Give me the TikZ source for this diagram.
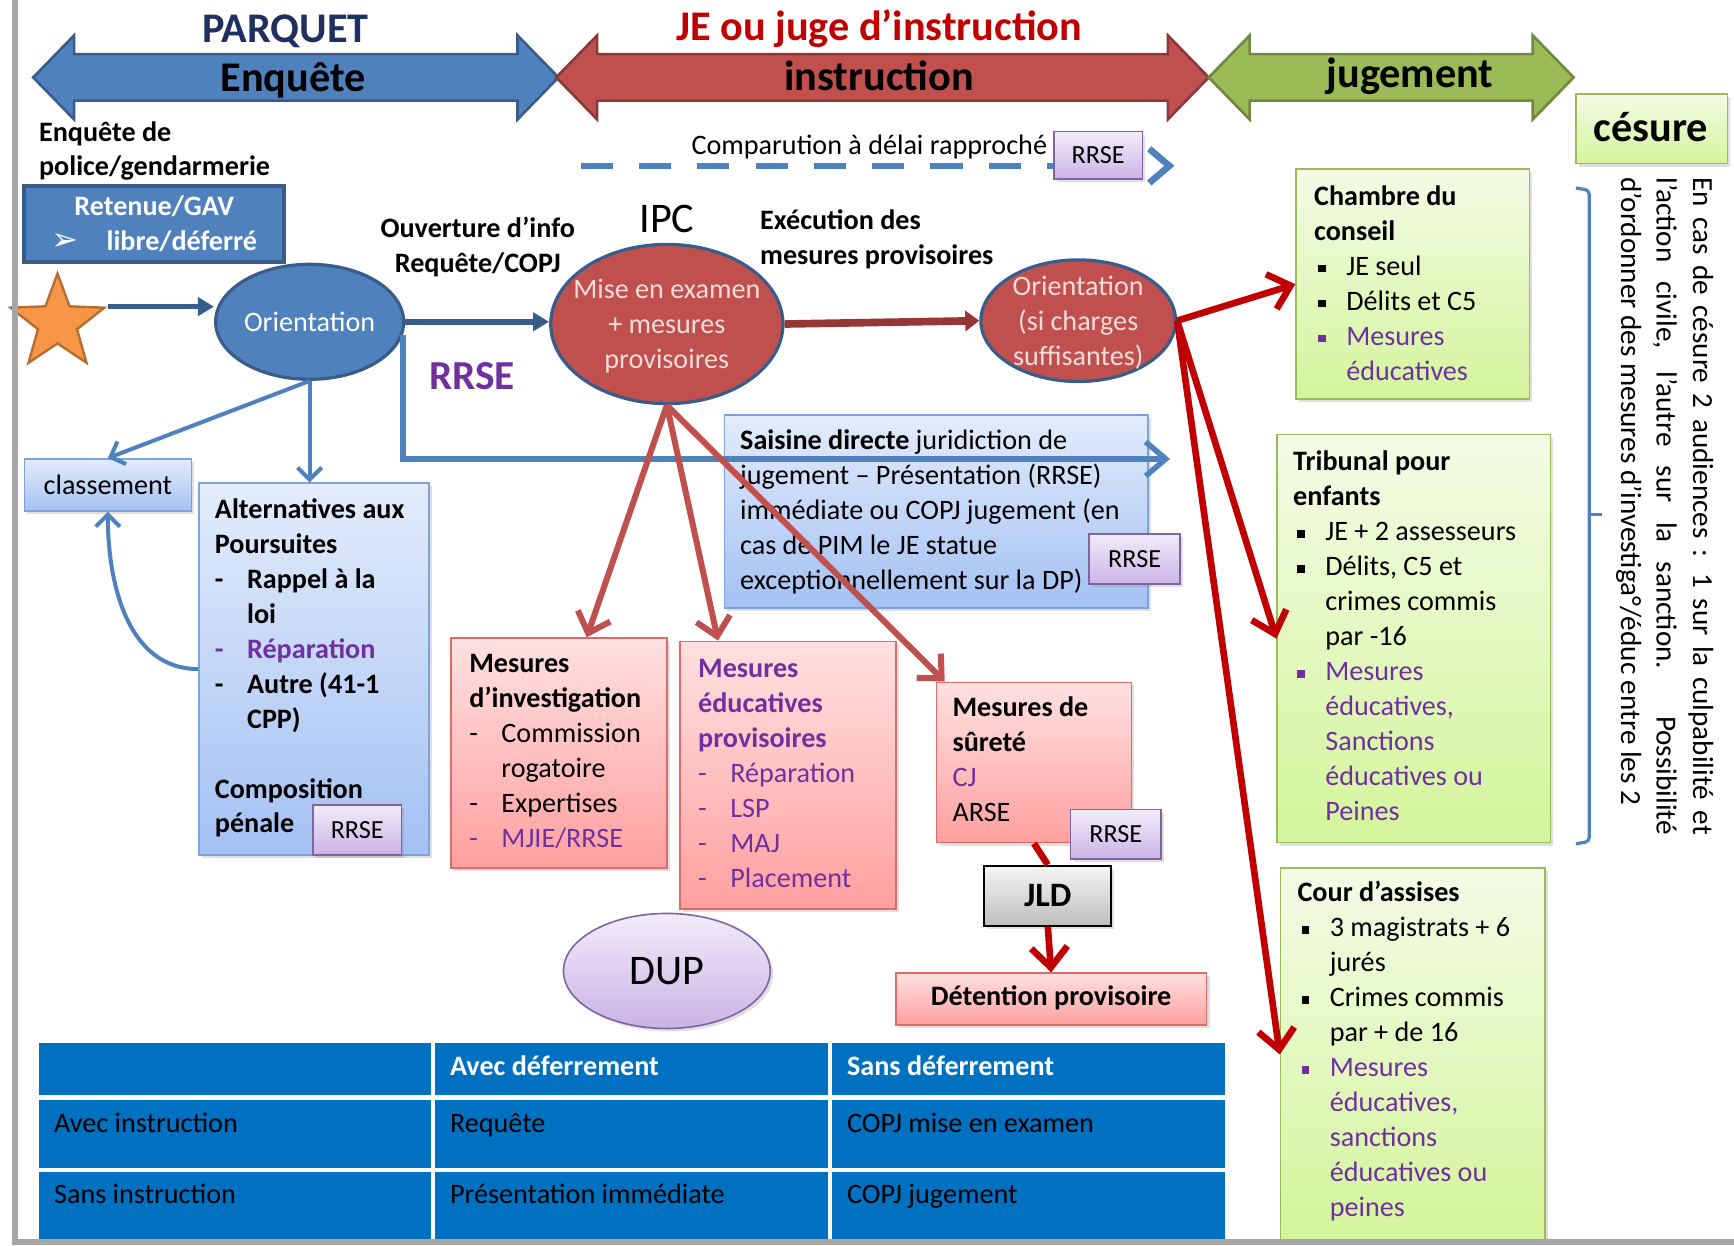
\documentclass[tikz,border=0pt]{standalone}
\usepackage{fontspec}
\setmainfont{Carlito}
\newfontfamily\dingfont{DejaVu Sans}
\usetikzlibrary{arrows.meta}
\usetikzlibrary{calc}
\usetikzlibrary{fit}
\usetikzlibrary{shapes.geometric}
\usetikzlibrary{shadows}

\definecolor{blueMain}{HTML}{4F81BD}
\definecolor{blueDark}{HTML}{385D8A}
\definecolor{redMain}{HTML}{C0504D}
\definecolor{redDark}{HTML}{8C3836}
\definecolor{redArrow}{HTML}{953735}
\definecolor{greenMain}{HTML}{9BBB59}
\definecolor{greenDark}{HTML}{71893F}
\definecolor{purpleTxt}{HTML}{7030A0}
\definecolor{deepRed}{HTML}{C00000}
\definecolor{navyTxt}{HTML}{1F2F5F}
\definecolor{tableBlue}{HTML}{0070C0}
\definecolor{lightBlueTop}{HTML}{E3ECFB}
\definecolor{lightBlueBot}{HTML}{A3C1F3}
\definecolor{lightBlueLine}{HTML}{7FA3D8}
\definecolor{pinkTop}{HTML}{FFE1E1}
\definecolor{pinkBot}{HTML}{FF9F9F}
\definecolor{pinkLine}{HTML}{E06A66}
\definecolor{greenTop}{HTML}{F4FBE6}
\definecolor{greenBot}{HTML}{D3F59B}
\definecolor{lavTop}{HTML}{F2ECF9}
\definecolor{lavBot}{HTML}{CAB3E6}
\definecolor{lavLine}{HTML}{8064A2}
\definecolor{grayTop}{HTML}{F5F5F5}
\definecolor{grayBot}{HTML}{BEBEBE}
\definecolor{frameGray}{HTML}{A6A6A6}
\definecolor{starFill}{HTML}{F79646}
\definecolor{starLine}{HTML}{B66D31}
\definecolor{ellTxt}{HTML}{F2DCDB}

\newcommand\bodyfont{\fontsize{14}{17.4}\selectfont}
\newcommand\titlefont{\fontsize{21}{25}\selectfont\bfseries}
\newcommand\rrsefont{\fontsize{13}{15}\selectfont}
\newcommand\listmark[1]{\makebox[16pt][l]{#1}}
\newcommand\sqbul{\listmark{\hspace{2pt}\rule[1.4pt]{3.8pt}{3.8pt}}}
\newcommand\indt{\hspace*{16pt}}

\tikzset{
  titletxt/.style={anchor=base, inner sep=0, font=\titlefont},
  txtblock/.style={anchor=north west, inner sep=0, align=left},
  boxbase/.style={inner sep=0, line width=0.8pt,
    drop shadow={opacity=0.25, shadow xshift=1.5pt, shadow yshift=-1.5pt}},
  bluebox/.style={boxbase, draw=lightBlueLine, top color=lightBlueTop, bottom color=lightBlueBot},
  pinkbox/.style={boxbase, draw=pinkLine, top color=pinkTop, bottom color=pinkBot},
  greenbox/.style={boxbase, draw=greenMain, top color=greenTop, bottom color=greenBot},
  tagbox/.style={boxbase, draw=lavLine, top color=lavTop, bottom color=lavBot},
  graybox/.style={boxbase, draw=black, line width=1pt, top color=grayTop, bottom color=grayBot},
  retenuebox/.style={inner sep=0, fill=blueMain, draw=blueDark, line width=2pt},
  cellbox/.style={inner sep=0, fill=tableBlue},
  blueell/.style={ellipse, inner sep=0, fill=blueMain, draw=blueDark, line width=1.6pt},
  redell/.style={ellipse, inner sep=0, fill=redMain, draw=blueDark, line width=1.6pt},
  dupell/.style={ellipse, inner sep=0, draw=lavLine, line width=0.8pt, top color=lavTop,
    bottom color=lavBot, drop shadow={opacity=0.25, shadow xshift=1.5pt, shadow yshift=-1.5pt}},
  vtxt/.style={rotate=-90, anchor=base west, inner sep=0, font=\fontsize{14.5}{17.9}\selectfont},
  darkarrow/.style={draw=blueDark, line width=2.75pt, -{Triangle[length=8pt, width=9pt]}},
  brownarrow/.style={draw=redArrow, line width=3.8pt, -{Triangle[length=7pt, width=10pt]}},
  bluethin/.style={draw=blueMain, line width=2pt, -{Straight Barb[length=6pt, width=12pt]}},
  bluethick/.style={draw=blueMain, line width=2.75pt, -{Straight Barb[length=10pt, width=17pt]}},
  bluedash/.style={bluethick, line width=3.3pt, dash pattern=on 16pt off 13pt},
  redsoft/.style={draw=redMain, line width=3pt, -{Straight Barb[length=9pt, width=17pt]}},
  redhard/.style={draw=deepRed, line width=3.3pt, -{Straight Barb[length=10pt, width=18pt]}},
  redline/.style={draw=deepRed, line width=3.3pt}
}

\begin{document}
\begin{tikzpicture}[x=0.55pt, y=-0.55pt, font=\bodyfont]
  \useasboundingbox (0,0) rectangle (1568,1126);

  % phases
  \foreach \xa/\xb/\fc/\dc in {30/505/blueMain/blueDark, 503/1093/redMain/redDark, 1093/1423/greenMain/greenDark}
    \draw[fill=\fc, draw=\dc, line width=1.3pt] (\xa,70) -- (\xa+37,32) -- (\xa+37,49)
      -- (\xb-37,49) -- (\xb-37,32) -- (\xb,70) -- (\xb-37,108) -- (\xb-37,91)
      -- (\xa+37,91) -- (\xa+37,108) -- cycle;

  \node[titletxt, navyTxt] (parquet) at (258,38) {PARQUET};
  \node[titletxt] (enquete) at (265,83) {Enquête};
  \node[titletxt, deepRed] (jetitle) at (795,37) {JE ou juge d’instruction};
  \node[titletxt] (instr) at (795,82) {instruction};
  \node[titletxt] (jug) at (1275,79) {jugement};

  % parquet
  \node[txtblock, font=\bodyfont\bfseries] (enqpol) at (35,105) {\strut Enquête de\\police/gendarmerie};
  \node[retenuebox, fit={(22,168) (257,237)}] (retenue) {};
  \node[text=white, font=\bodyfont\bfseries, align=center] (retenuetxt) at (retenue.center)
    {Retenue/GAV\\{\dingfont\fontsize{16}{17}\selectfont ➢}\hspace{14pt}libre/déferré};
  \node[star, star points=5, star point ratio=2.4, minimum size=49pt, inner sep=0,
    fill=starFill, draw=starLine, line width=1.2pt] (startpt) at (52,292) {};
  \node[blueell, minimum width=93.5pt, minimum height=57.2pt] (orient) at (280,291) {};
  \node[text=white] (orienttxt) at (orient.center) {Orientation};
  \node[font=\bodyfont\bfseries, align=center, anchor=north, inner sep=0] (ouverture) at (432,192)
    {\strut Ouverture d’info\\Requête/COPJ};
  \node[titletxt, font=\fontsize{20.5}{24}\selectfont\bfseries, purpleTxt] (rrsebig) at (427,352) {RRSE};

  \node[bluebox, fit={(22,415) (173,462)}] (classement) {};
  \node (classementtxt) at (classement.center) {classement};
  \node[bluebox, fit={(180,437) (388,773)}] (altern) {};
  \node[txtblock, font=\bodyfont\bfseries] (alterntxt) at (194,446)
    {\strut Alternatives aux\\Poursuites\\\listmark{-}Rappel à la\\\indt loi\\
     {\color{purpleTxt}\listmark{-}Réparation}\\\listmark{-}Autre (41-1\\\indt CPP)\\[17.4pt]
     Composition\\pénale};

  % instruction
  \node[titletxt, font=\fontsize{21}{25}\selectfont] (ipc) at (603,210) {IPC};
  \node[redell, minimum width=115.5pt, minimum height=79.2pt] (mise) at (603,293) {};
  \node[text=ellTxt, align=center] (misetxt) at ($(mise.center)+(0,2)$) {Mise en examen\\+ mesures\\provisoires};
  \node[txtblock, font=\bodyfont\bfseries] (execution) at (687,185) {\strut Exécution des\\mesures provisoires};
  \node[redell, minimum width=96.8pt, minimum height=60.5pt] (orient2) at (975,290) {};
  \node[text=ellTxt, align=center] (orient2txt) at ($(orient2.center)+(0,2)$) {Orientation\\(si charges\\suffisantes)};
  \node[anchor=base west, inner sep=0] (comparution) at (625,140) {Comparution à délai rapproché};

  \node[bluebox, fit={(655,375) (1038,550)}] (saisine) {};
  \node[txtblock] (saisinetxt) at (669,384)
    {\strut\textbf{Saisine directe} juridiction de\\jugement – Présentation (RRSE)\\
     immédiate ou COPJ jugement (en\\cas de PIM le JE statue\\exceptionnellement sur la DP)};

  \node[pinkbox, fit={(408,577) (603,785)}] (invest) {};
  \node[txtblock] (investtxt) at (424,586)
    {\strut\textbf{Mesures}\\\textbf{d’investigation}\\\listmark{-}Commission\\\indt rogatoire\\
     \listmark{-}Expertises\\{\color{purpleTxt}\listmark{-}MJIE/RRSE}};
  \node[pinkbox, fit={(615,580) (810,822)}] (educ) {};
  \node[txtblock, text=purpleTxt] (eductxt) at (631,590)
    {\strut\textbf{Mesures}\\\textbf{éducatives}\\\textbf{provisoires}\\\listmark{-}Réparation\\
     \listmark{-}LSP\\\listmark{-}MAJ\\\listmark{-}Placement};
  \node[pinkbox, fit={(847,617) (1023,762)}] (surete) {};
  \node[txtblock] (suretetxt) at (861,625)
    {\strut\textbf{Mesures de}\\\textbf{sûreté}\\{\color{purpleTxt}CJ}\\ARSE};
  \node[graybox, fit={(890,783) (1005,837)}] (jld) {};
  \node[font=\fontsize{17}{20}\selectfont\bfseries] (jldtxt) at (jld.center) {JLD};
  \node[pinkbox, fit={(810,880) (1091,927)}] (det) {};
  \node[font=\bodyfont\bfseries] (dettxt) at ($(det.center)+(0,-1)$) {Détention provisoire};
  \node[dupell, minimum width=102.85pt, minimum height=57.2pt] (dup) at (603,878) {};
  \node[font=\fontsize{21}{25}\selectfont] (duptxt) at (dup.center) {DUP};

  % jugement
  \node[greenbox, fit={(1172,153) (1383,361)}] (chambre) {};
  \node[txtblock] (chambretxt) at (1188,163)
    {\strut\textbf{Chambre du}\\\textbf{conseil}\\\sqbul JE seul\\\sqbul Délits et C5\\
     {\color{purpleTxt}\sqbul Mesures}\\{\color{purpleTxt}\indt éducatives}};
  \node[greenbox, fit={(1155,393) (1402,762)}] (tribunal) {};
  \node[txtblock] (tribunaltxt) at (1169,403)
    {\strut\textbf{Tribunal pour}\\\textbf{enfants}\\\sqbul JE + 2 assesseurs\\\sqbul Délits, C5 et\\
     \indt crimes commis\\\indt par -16\\{\color{purpleTxt}\sqbul Mesures}\\
     {\color{purpleTxt}\indt éducatives,}\\{\color{purpleTxt}\indt Sanctions}\\
     {\color{purpleTxt}\indt éducatives ou}\\{\color{purpleTxt}\indt Peines}};
  \node[greenbox, fit={(1158,785) (1397,1122)}] (cour) {};
  \node[txtblock] (courtxt) at (1173,793)
    {\strut\textbf{Cour d’assises}\\\sqbul 3 magistrats + 6\\\indt jurés\\\sqbul Crimes commis\\
     \indt par + de 16\\{\color{purpleTxt}\sqbul Mesures}\\{\color{purpleTxt}\indt éducatives,}\\
     {\color{purpleTxt}\indt sanctions}\\{\color{purpleTxt}\indt éducatives ou}\\
     {\color{purpleTxt}\indt peines}};

  % cesure
  \node[greenbox, fit={(1425,85) (1562,148)}] (cesure) {};
  \node[titletxt] (cesuretxt) at (1493,128) {césure};
  \draw[blueMain, line width=1.6pt, rounded corners=2pt] (1425,170) -- (1437,172) -- (1437,761) -- (1425,763);
  \draw[blueMain, line width=1.6pt] (1437,465) -- (1449,465);
  \node[vtxt] (cesureA) at (1531,160) {\makebox[327pt][s]{En cas de césure 2 audiences : 1 sur la culpabilité et}};
  \node[vtxt] (cesureB) at (1498,160) {\makebox[327pt][s]{l'action civile, l'autre sur la sanction. Possibilité}};
  \node[vtxt] (cesureC) at (1466,160) {d'ordonner des mesures d'investiga°/éduc entre les 2};

  % table
  \foreach \r/\ya/\yb in {1/943/990, 2/995/1056, 3/1060/1120}
    \foreach \c/\xa/\xb in {1/35/390, 2/393/749, 3/752/1108}
      \node[cellbox, fit={(\xa,\ya) (\xb,\yb)}] (cell-\r-\c) {};
  \foreach \r/\c/\celltext in {1/2/Avec déferrement, 1/3/Sans déferrement}
    \node[anchor=base west, inner sep=0, text=white, font=\bodyfont\bfseries] (head-\r-\c)
      at ($(cell-\r-\c.north west)+(14,30)$) {\celltext};
  \foreach \r/\c/\celltext in {2/1/Avec instruction, 2/2/Requête, 2/3/COPJ mise en examen,
      3/1/Sans instruction, 3/2/Présentation immédiate, 3/3/COPJ jugement}
    \node[anchor=base west, inner sep=0] (body-\r-\c) at ($(cell-\r-\c.north west)+(14,29)$) {\celltext};

  % connectors
  \draw[darkarrow] (startpt.outer point 5) -- (startpt.outer point 5 -| orient.west);
  \draw[darkarrow] (orient.east) -- (orient.east -| mise.west);
  \draw[brownarrow] (mise.east) -- (orient2.west);
  \draw[bluethin] (orient.south) -- (classement.north);
  \draw[bluethin] (orient.south) -- (orient.south |- altern.north);
  \draw[bluethin] (altern.west) to[out=180, in=-90] (classement.south);
  \coordinate (saisieend) at (1058,415);
  \draw[bluethick] (orient.-8) |- (saisieend);
  \coordinate (dashstart) at (525,150);
  \coordinate (dashend) at (1062,150);
  \draw[bluedash] (dashstart) -- (dashend);
  \draw[redsoft] (mise.south) -- ($(invest.north)+(25,0)$);
  \draw[redsoft] (mise.south) -- ($(educ.north west)+(35,0)$);
  \draw[redsoft] (mise.south) -- ($(surete.north west)+(8,0)$);
  \draw[redhard] (orient2.east) -- (chambre.west);
  \draw[redhard] (orient2.east) -- (tribunal.west);
  \draw[redhard] (orient2.east) -- (cour.west);
  \draw[redline] (surete.south) -- (jld.north);
  \draw[redhard] (jld.south) -- (det.north);

  % RRSE tags
  \foreach \tagname/\xa/\ya/\xb/\yb in {tagcomp/953/119/1033/162, tagsaisine/985/483/1067/528,
      tagsurete/968/732/1050/777, tagaltern/283/728/363/773} {
    \node[tagbox, fit={(\xa,\ya) (\xb,\yb)}] (\tagname) {};
    \node[font=\rrsefont] (\tagname-txt) at (\tagname.center) {RRSE};
  }

  % frame
  \draw[frameGray, line width=3pt] (14,0) -- (14,1126);
  \draw[frameGray, line width=3pt] (14,1123) -- (1568,1123);
\end{tikzpicture}
\end{document}
